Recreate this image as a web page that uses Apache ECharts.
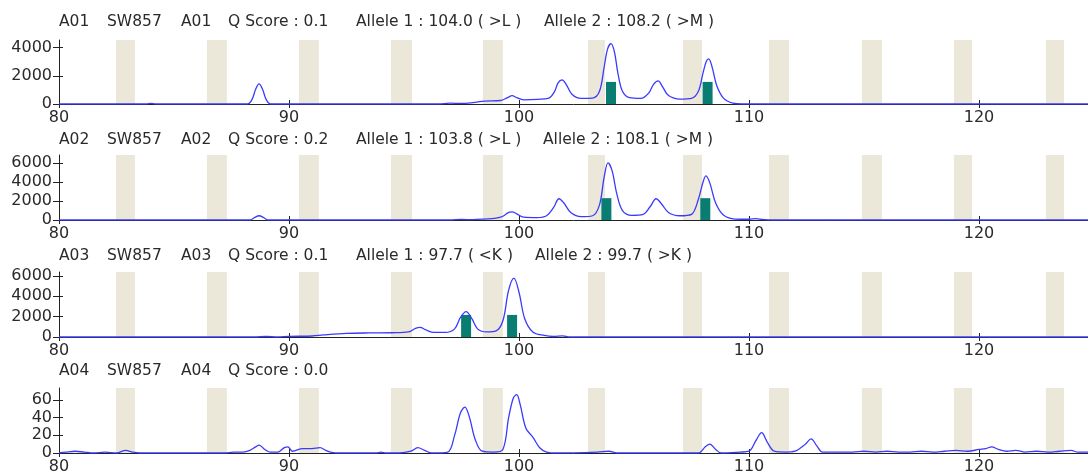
<!DOCTYPE html>
<html>
<head>
<meta charset="utf-8">
<script src="https://cdn.jsdelivr.net/npm/echarts@6/dist/echarts.min.js"></script>
<style>
  html, body { margin: 0; background: #fff; }
  #main { width: 1088px; height: 475px; }
</style>
</head>
<body>
<div id="main"></div>
<script>
// size axis (bp) and bins
const xMin = 80, xMax = 124.74;
const xTicks = [80, 90, 100, 110, 120];
const binStart = [82.48, 86.43, 90.43, 94.43, 98.43, 103.0, 107.13, 110.87, 114.91, 118.91, 122.91];
const binEnd   = [83.30, 87.30, 91.30, 95.35, 99.30, 103.74, 107.96, 111.74, 115.78, 119.70, 123.70];

// header texts
const wells = ['A01', 'A02', 'A03', 'A04'];
const marker = 'SW857';
const qScores = ['0.1', '0.2', '0.1', '0.0'];
const allele1 = ['104.0 ( >L )', '103.8 ( >L )', '97.7 ( <K )', null];
const allele2 = ['108.2 ( >M )', '108.1 ( >M )', '99.7 ( >K )', null];

// y scales
const yMax = [4550, 6880, 6390, 73.6];
const yTicks = [[0, 2000, 4000], [0, 2000, 4000, 6000], [0, 2000, 4000, 6000], [0, 20, 40, 60]];

// traces: [size, rfu]
const traceA01 = [[80,0],[83.8,0],[84.0,40],[84.2,0],
  [88.2,0],[88.4,350],[88.55,1050],[88.7,1430],[88.85,1050],[89.0,350],[89.2,0],
  [96.5,0],[97,60],[97.5,40],[98,100],[98.5,200],[99.2,250],[99.5,450],[99.7,590],[99.9,450],[100.2,300],
  [100.8,330],[101.3,420],[101.55,900],[101.7,1500],[101.87,1710],[102.05,1400],[102.3,700],[102.7,400],
  [103.2,420],[103.5,900],[103.7,2600],[103.85,3900],[104.0,4290],[104.15,3700],[104.3,2200],[104.5,900],
  [104.8,450],[105.3,400],[105.65,800],[105.85,1400],[106.05,1640],[106.25,1200],[106.5,600],[107.0,350],
  [107.5,400],[107.8,900],[108.0,2200],[108.15,3050],[108.25,3210],[108.4,2600],[108.6,1300],[108.9,400],
  [109.3,60],[109.7,0],[124.74,0]];
const traceA02 = [[80,0],[88.3,0],[88.5,250],[88.7,450],[88.9,250],[89.1,0],
  [97,0],[97.5,60],[98,40],[98.5,100],[99,200],[99.3,400],[99.55,800],[99.7,860],[99.9,650],[100.2,300],
  [100.8,250],[101.2,450],[101.5,1300],[101.74,2250],[101.95,1800],[102.25,800],[102.7,350],
  [103.2,450],[103.5,1600],[103.7,4500],[103.87,6040],[104.05,5200],[104.25,2800],[104.5,1000],
  [104.9,500],[105.4,600],[105.7,1400],[105.96,2250],[106.2,1700],[106.5,800],[107,450],
  [107.5,600],[107.8,2200],[108.0,4000],[108.13,4660],[108.3,3900],[108.55,1800],[108.9,500],
  [109.4,100],[110,80],[110.3,150],[110.6,60],[111,0],[124.74,0]];
const traceA03 = [[80,0],[88.5,0],[89,50],[89.5,0],[90,60],[91,100],[91.5,200],[92.5,350],[93.5,400],
  [94.5,420],[95.2,500],[95.5,850],[95.7,950],[95.95,700],[96.3,450],[96.8,450],[97.2,800],[97.45,1900],
  [97.7,2490],[97.95,1800],[98.2,800],[98.6,500],[99.0,600],[99.3,1600],[99.55,4600],[99.78,5780],
  [100.0,4400],[100.25,1800],[100.6,500],[101.1,150],[101.5,50],[101.9,120],[102.2,0],[124.74,0]];
const traceA04 = [[80,0],[80.3,1],[80.7,2],[81.1,1],[81.5,0],[82.0,1],[82.5,0],[82.9,3],[83.2,1],[83.5,0],
  [87.2,0],[87.6,1],[88.0,1],[88.3,3],[88.55,7],[88.7,9],[88.95,4],[89.2,1],[89.5,1],[89.8,6],[89.95,7],
  [90.15,2],[90.6,5],[91.0,5],[91.35,6],[91.6,3],[91.8,1],[92.2,0],[93.8,0],[94.0,1],[94.2,0],
  [94.8,0],[95.3,2],[95.6,6],[95.9,3],[96.2,0],[96.9,1],[97.2,20],[97.45,45],[97.65,52],[97.85,40],
  [98.1,15],[98.4,2],[98.9,1],[99.3,4],[99.55,40],[99.75,62],[99.9,66],[100.05,55],[100.3,28],[100.6,18],
  [100.9,6],[101.2,1],[101.6,0],[103.4,1],[103.9,2],[104.3,0],
  [107.8,0],[108.1,7],[108.3,10],[108.55,4],[108.8,0],[109.6,1],[110.0,2],[110.3,14],[110.55,23],[110.8,12],
  [111.1,2],[111.6,1],[112.0,2],[112.45,10],[112.7,16],[112.95,8],[113.2,1],[114.5,1],[115.0,2],[115.5,1],
  [116.0,2],[116.5,1],[117.0,1],[117.5,2],[118.0,1],[118.5,2],[119.0,3],[119.5,2],[120.0,4],[120.3,5],
  [120.55,7],[120.85,4],[121.2,2],[121.6,3],[122.0,1],[122.5,2],[123,1],[123.5,2],[124,3],[124.3,1],[124.74,1]];
const traces = [traceA01, traceA02, traceA03, traceA04];

// allele calls: [size, height]
const callsA01 = [[104.0, 1570], [108.2, 1570]];
const callsA02 = [[103.8, 2310], [108.1, 2310]];
const callsA03 = [[97.7, 2170], [99.7, 2170]];
const callsA04 = [];
const calls = [callsA01, callsA02, callsA03, callsA04];

// layout
const gridTop = [40, 155, 272, 388];
const gridH = [64, 65, 65, 65];
const titleTop = [14, 132, 248, 363];
const seg = [59, 107, 181, 228, 356];
const allele2Left = [544, 543, 535, 0];

const font = 'DejaVu Sans';
const txt = '#2a2a2a';

const chart = echarts.init(document.getElementById('main'));

const grid = [], xAxis = [], yAxis = [], series = [], title = [];

for (let i = 0; i < 4; i++) {
  grid.push({ left: 59, right: 0, top: gridTop[i], height: gridH[i] });

  const ts = { fontFamily: font, fontSize: 15.5, fontWeight: 'normal', color: txt };
  const parts = [wells[i], marker, wells[i], 'Q Score : ' + qScores[i]];
  parts.forEach((p, k) => title.push({ text: p, left: seg[k], top: titleTop[i], padding: 0, textStyle: ts }));
  if (allele1[i]) {
    title.push({ text: 'Allele 1 : ' + allele1[i], left: seg[4], top: titleTop[i], padding: 0, textStyle: ts });
    title.push({ text: 'Allele 2 : ' + allele2[i], left: allele2Left[i], top: titleTop[i], padding: 0, textStyle: ts });
  }

  // outer axes (line, labels, outward ticks)
  xAxis.push({
    gridIndex: i, type: 'value', min: xMin, max: xMax, position: 'bottom',
    axisLine: { show: true, lineStyle: { color: '#222', width: 1 } },
    axisTick: { show: true, length: 4, customValues: xTicks, lineStyle: { color: '#222' } },
    axisLabel: { customValues: xTicks, margin: 6, color: txt, fontSize: 16, fontFamily: font },
    splitLine: { show: false }
  });
  // inner axes (inward ticks only)
  xAxis.push({
    gridIndex: i, type: 'value', min: xMin, max: xMax, position: 'bottom',
    axisLine: { show: false },
    axisTick: { show: true, inside: true, length: 4, customValues: xTicks, lineStyle: { color: '#222' } },
    axisLabel: { show: false },
    splitLine: { show: false }
  });
  yAxis.push({
    gridIndex: i, type: 'value', min: 0, max: yMax[i], position: 'left',
    axisLine: { show: true, lineStyle: { color: '#222', width: 1 } },
    axisTick: { show: true, length: 6, customValues: yTicks[i], lineStyle: { color: '#222' } },
    axisLabel: { customValues: yTicks[i], margin: 7, color: txt, fontSize: 16, fontFamily: font,
      formatter: v => String(v) },
    splitLine: { show: false }
  });
  yAxis.push({
    gridIndex: i, type: 'value', min: 0, max: yMax[i], position: 'left',
    axisLine: { show: false },
    axisTick: { show: true, inside: true, length: 4, customValues: yTicks[i], lineStyle: { color: '#222' } },
    axisLabel: { show: false },
    splitLine: { show: false }
  });

  const ymax = yMax[i];
  series.push({
    type: 'custom', xAxisIndex: 2 * i, yAxisIndex: 2 * i, z: 1, silent: true,
    data: binStart.map((s, k) => [s, binEnd[k]]),
    encode: { x: [0, 1] },
    renderItem: (params, api) => {
      const p0 = api.coord([api.value(0), ymax]);
      const p1 = api.coord([api.value(1), 0]);
      return { type: 'rect', shape: { x: p0[0], y: p0[1], width: p1[0] - p0[0], height: p1[1] - p0[1] },
        style: { fill: '#ebe8da' } };
    }
  });
  series.push({
    type: 'bar', xAxisIndex: 2 * i, yAxisIndex: 2 * i, z: 2, silent: true,
    data: calls[i], barWidth: 10, itemStyle: { color: '#0a7d72' }
  });
  series.push({
    type: 'line', xAxisIndex: 2 * i, yAxisIndex: 2 * i, z: 3, silent: true,
    data: traces[i], showSymbol: false, smooth: 0.35,
    lineStyle: { color: '#3a3aff', width: 1.3 }
  });
}

chart.setOption({ animation: false, title, grid, xAxis, yAxis, series });
</script>
</body>
</html>
